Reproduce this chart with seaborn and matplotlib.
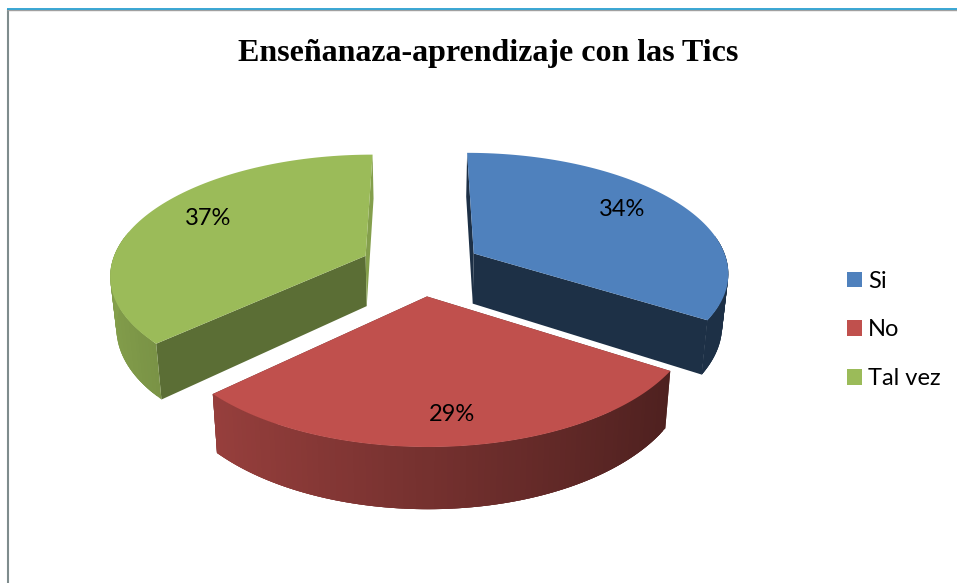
import numpy as np
import matplotlib
matplotlib.use("Agg")
import matplotlib.pyplot as plt
import seaborn as sns
from matplotlib.patches import Patch, Polygon

categories = ["Si", "No", "Tal vez"]
values = [34, 29, 37]
title = "Enseñanaza-aprendizaje con las Tics"

sns.set_theme(style="white")
palette = sns.color_palette(["#4F81BD", "#C0504D", "#9BBB59"])

# projection of the tilted pie, in pixels
CX, CY = 421, 267
A, B = 255, 119
PERSP = 0.146
DEPTH = 51
EXPLODE = 0.24
LABEL_R = [0.72, 0.85, 0.72]
LABEL_LIFT = 6
CUT_SHADE = [0.37, 0.5, 0.59]


def project(x, y, z=0.0):
    s = 1 / (1 - PERSP * y)
    shrink = 1 - 0.02 * z
    return CX + A * x * s * shrink, CY + (B * y + DEPTH * z) * s


def disc(t, r, t_mid):
    # t runs clockwise from 12 o'clock, y points to the viewer
    x = EXPLODE * np.sin(t_mid) + r * np.sin(t)
    y = -EXPLODE * np.cos(t_mid) - r * np.cos(t)
    return x, y


def shade(color, f):
    return tuple(min(1, c * f) for c in color)


def wall_shade(t, i):
    # the blue slice only shows its dark side
    if i == 0:
        return CUT_SHADE[0]
    return 0.61 - 0.24 * np.sin(t)


fig = plt.figure(figsize=(9.57, 5.83), dpi=100)
ax = fig.add_axes([0, 0, 1, 1])
ax.set_xlim(0, 957)
ax.set_ylim(583, 0)
ax.axis("off")

# chart frame
ax.plot([8, 8], [9, 583], color="#7f8c8d", lw=1.5, solid_capstyle="butt")
ax.plot([7, 957], [10, 10], color="#a0a0a0", lw=1.0, solid_capstyle="butt")
ax.plot([7, 957], [8.5, 8.5], color="#2a9fd0", lw=1.3, solid_capstyle="butt")

edges = np.cumsum([0] + values) / sum(values) * 2 * np.pi
mids = (edges[:-1] + edges[1:]) / 2

for i in [2, 0, 1]:
    t0, t1, tm = edges[i], edges[i + 1], mids[i]
    color = palette[i]

    # cut faces
    for t, f in [(t0, CUT_SHADE[i]), (t1, 0.85 if i == 2 else CUT_SHADE[i])]:
        ox, oy = disc(t, 0, tm)
        ex, ey = disc(t, 1, tm)
        pts = [project(ox, oy), project(ex, ey), project(ex, ey, 1), project(ox, oy, 1)]
        ax.add_patch(Polygon(pts, closed=True, fc=shade(color, f), ec="none"))

    # outer wall, strips overlap the next one so no seams show
    ts = np.linspace(t0, t1, 90)
    step = ts[1] - ts[0]
    for a in ts[:-1]:
        b = min(a + 3 * step, t1)
        xa, ya = disc(a, 1, tm)
        xb, yb = disc(b, 1, tm)
        if -np.cos(a + step / 2) < -0.15:
            continue
        f = wall_shade(a + step / 2, i)
        pts = [project(xa, ya), project(xb, yb), project(xb, yb, 1), project(xa, ya, 1)]
        ax.add_patch(Polygon(pts, closed=True, fc=shade(color, f), ec="none"))

    # top surface
    xs, ys = disc(ts, 1, tm)
    ox, oy = disc(t0, 0, tm)
    px, py = project(np.r_[ox, xs], np.r_[oy, ys])
    ax.fill(px, py, color=color, lw=0)

for i, v in enumerate(values):
    lx, ly = disc(mids[i], LABEL_R[i], mids[i])
    px, py = project(lx, ly)
    ax.text(px, py - LABEL_LIFT, f"{v}%", ha="center", va="center", fontsize=17, family="Lato", color="black")

ax.text(488, 54, title, ha="center", va="center", fontsize=23, fontweight="bold",
        family="Liberation Serif", color="black")

handles = [Patch(fc=c, ec="none", label=n) for c, n in zip(palette, categories)]
leg = ax.legend(handles=handles, loc="center left", bbox_to_anchor=(847, 330),
                bbox_transform=ax.transData, frameon=False, ncol=1,
                prop={"family": "Lato", "size": 17}, handlelength=0.635, handleheight=0.635,
                handletextpad=0.25, labelspacing=1.18, borderpad=0, borderaxespad=0)
for text in leg.get_texts():
    text.set_color("black")

fig.savefig("out.png", dpi=100)
